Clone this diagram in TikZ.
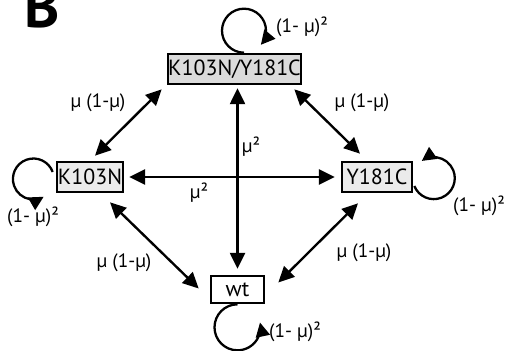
\documentclass[tikz,border=0pt]{standalone}
\usepackage{fontspec}
\setmainfont{PT Sans}
\usetikzlibrary{arrows.meta, calc}
\definecolor{dblgray}{gray}{0.86}
\definecolor{sglgray}{gray}{0.92}

\begin{document}
\begin{tikzpicture}[
    x=0.02cm, y=-0.02cm,
    state/.style={draw, line width=1.5pt, inner sep=0pt, align=center,
                  font=\fontsize{12.5}{14}\selectfont, minimum height=0.6cm},
    rate/.style={font=\fontsize{11}{13}\selectfont, inner sep=0pt},
    link/.style={line width=1.35pt,
                 {Triangle[length=9pt,width=8.5pt]}-{Triangle[length=9pt,width=8.5pt]}},
    selfloop/.style={line width=1.3pt, -{Triangle[length=8pt,width=8pt]}}
  ]
  \clip (0,0) rectangle (507,351);

  \node[anchor=base west, inner sep=0pt, font=\fontsize{34}{34}\selectfont\bfseries] (panel) at (24,28) {B};

  \node[state, fill=dblgray, minimum width=2.66cm] (dbl) at (234.5,69) {K103N/Y181C};
  \node[state, fill=sglgray, minimum width=1.32cm] (k103n) at (90,177) {K103N};
  \node[state, fill=sglgray, minimum width=1.4cm] (y181c) at (377,177) {Y181C};
  \node[state, fill=white, minimum width=1.06cm, minimum height=0.54cm] (wt) at (237.5,289.5) {wt};

  % single mutations
  \draw[link] ($(k103n.north)+(5,-5)$) -- ($(dbl.south west)+(-5,4)$);
  \draw[link] ($(y181c.north)+(-17,-7)$) -- ($(dbl.south east)+(-8,4)$);
  \draw[link] ($(k103n.south)+(20,9)$) -- ($(wt.west)+(-11,-1)$);
  \draw[link] ($(y181c.south)+(-19,10)$) -- ($(wt.east)+(13,-7)$);
  % double mutations
  \draw[link, shorten <=3.4pt, shorten >=1.7pt] (wt.north) -- (wt.north |- dbl.south);
  \draw[link, shorten <=2.8pt, shorten >=3.4pt] (k103n.east) -- (y181c.west);

  % self loops
  \draw[selfloop] ($(dbl.north)+(9.5,0)$) arc[start angle=90, end angle=400, radius=22];
  \draw[selfloop] ($(k103n.west)+(-3,-5)$) arc[start angle=-20, end angle=-300, radius=20.5];
  \draw[selfloop] ($(y181c.east)+(1,9)$) arc[start angle=158, end angle=-125, radius=21];
  \draw[selfloop] (wt.south) arc[start angle=-90, end angle=-372, radius=23];

  % rates
  \node[rate] (r1) at (98,103) {µ (1-µ)};
  \node[rate] (r2) at (362,103) {µ (1-µ)};
  \node[rate] (r3) at (124,263) {µ (1-µ)};
  \node[rate] (r4) at (364,253) {µ (1-µ)};
  \node[rate] (r5) at (251,147) {µ²};
  \node[rate] (r6) at (199,193) {µ²};
  \node[rate] (s1) at (302,27) {(1- µ)²};
  \node[rate] (s2) at (33,217) {(1- µ)²};
  \node[rate] (s3) at (479,206) {(1- µ)²};
  \node[rate] (s4) at (295,332) {(1- µ)²};
\end{tikzpicture}
\end{document}
